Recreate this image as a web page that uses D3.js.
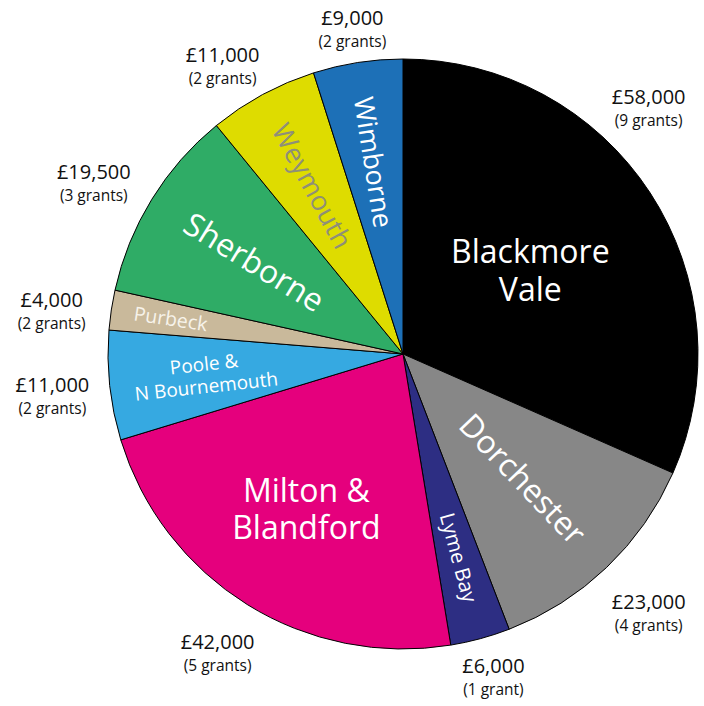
<!DOCTYPE html>
<html>
<head>
<meta charset="utf-8">
<script src="https://cdn.jsdelivr.net/npm/d3@7"></script>
<style>
  body { margin: 0; background: #fff; }
  svg text { font-family: "Open Sans", "Noto Sans", sans-serif; }
</style>
</head>
<body>
<div id="chart"></div>
<script>
// data, clockwise from 12 o'clock
const areas = ["Blackmore Vale", "Dorchester", "Lyme Bay", "Milton & Blandford",
    "Poole & N Bournemouth", "Purbeck", "Sherborne", "Weymouth", "Wimborne"];
const amounts = [58000, 23000, 6000, 42000, 11000, 4000, 19500, 11000, 9000];
const grants = [9, 4, 1, 5, 2, 2, 3, 2, 2];
const colours = ["#000000", "#878787", "#2d2e83", "#e5007d", "#36a9e1",
    "#c9b99b", "#2fac66", "#dedc00", "#1d70b7"];

// inside-label layout
const nameLines = [["Blackmore", "Vale"], ["Dorchester"], ["Lyme Bay"], ["Milton &", "Blandford"],
    ["Poole &", "N Bournemouth"], ["Purbeck"], ["Sherborne"], ["Weymouth"], ["Wimborne"]];
const nameSize = [32, 32, 20.5, 32, 19, 19.5, 32, 27, 27];
const nameRadius = [152, 173, 211, 183, 199, 235, 175, 191, 194];
const nameColour = ["#fff", "#fff", "#fff", "#fff", "#fff", "#f7f3ea", "#fff", "#8f8f78", "#fff"];
const nameFlat = [true, false, false, true, false, false, false, false, false];

// outside-label layout
const valueRadius = [348, 356, 334, 351, 353, 354, 354, 341, 330];
const valueShift = [-12, 0, -0.5, 0, -0.5, -1.5, -2.5, -3.5, 0]; // degrees nudge

function Config(width = 704) {
    this.width = width;
    this.height = 706;
    this.cx = 403;
    this.cy = 354;
    this.radius = 295;
}

function plotPie(cfg) {
    const data = areas.map((a, i) => ({area: a, amount: amounts[i], grants: grants[i], i: i}));

    const pie = d3.pie().sort(null).value(d => d.amount);
    const arcs = pie(data);
    const arc = d3.arc().innerRadius(0).outerRadius(cfg.radius);

    const svg = d3.select("#chart").append("svg")
        .attr("width", cfg.width)
        .attr("height", cfg.height);

    const g = svg.append("g")
        .attr("transform", `translate(${cfg.cx},${cfg.cy})`);

    g.selectAll("path.slice")
        .data(arcs)
        .join("path")
        .attr("class", "slice")
        .attr("fill", d => colours[d.data.i])
        .attr("stroke", "#000")
        .attr("stroke-width", 1)
        .attr("d", arc);

    // names inside the slices
    arcs.forEach(d => {
        const i = d.data.i;
        const mid = (d.startAngle + d.endAngle) / 2;
        const deg = mid * 180 / Math.PI;
        const r = nameRadius[i];
        const x = r * Math.sin(mid), y = -r * Math.cos(mid);
        let rot = 0;
        if (!nameFlat[i]) rot = deg < 180 ? deg - 90 : deg - 270;
        const lines = nameLines[i];
        const fs = nameSize[i];
        const lh = fs * 1.18;
        lines.forEach((s, k) => {
            g.append("text")
                .attr("transform", `translate(${x},${y}) rotate(${rot})`)
                .attr("text-anchor", "middle")
                .attr("fill", nameColour[i])
                .attr("font-size", fs)
                .attr("y", (k - (lines.length - 1) / 2) * lh)
                .attr("dy", "0.35em")
                .text(s);
        });
    });

    // amounts outside
    const fmt = d3.format(",");
    arcs.forEach(d => {
        const i = d.data.i;
        const mid = (d.startAngle + d.endAngle) / 2 + valueShift[i] * Math.PI / 180;
        const r = valueRadius[i];
        const x = r * Math.sin(mid), y = -r * Math.cos(mid);
        const t = g.append("text")
            .attr("transform", `translate(${x},${y})`)
            .attr("text-anchor", "middle")
            .attr("fill", "#111");
        t.append("tspan")
            .attr("x", 0).attr("y", -3)
            .attr("font-size", 20)
            .text("£" + fmt(d.data.amount));
        t.append("tspan")
            .attr("x", 0).attr("y", 19)
            .attr("font-size", 15.5)
            .text(`(${d.data.grants} grant${d.data.grants > 1 ? "s" : ""})`);
    });
}

document.addEventListener("DOMContentLoaded", () => plotPie(new Config()));
</script>
</body>
</html>
